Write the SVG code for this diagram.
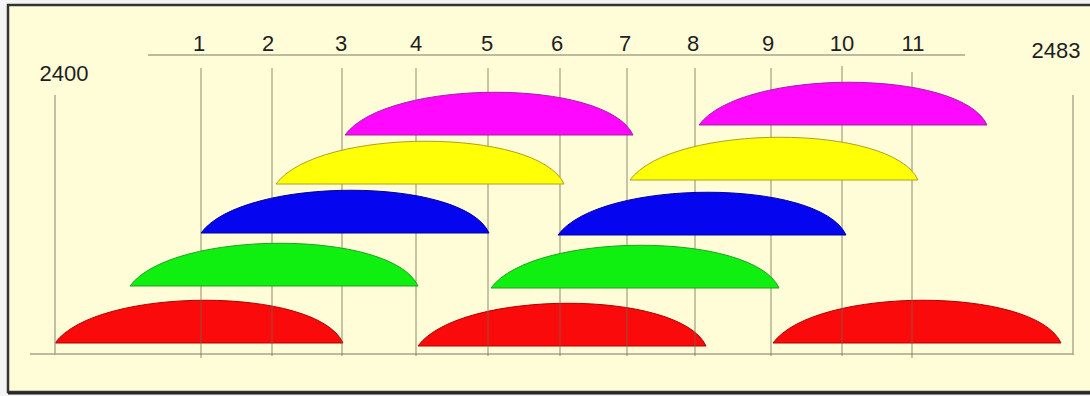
<svg xmlns="http://www.w3.org/2000/svg" width="1090" height="396" viewBox="0 0 1090 396">
<style>
.t{font-family:"Liberation Sans",Arial,sans-serif;font-size:22px;fill:#1e1e1e;text-anchor:middle}
.ax{stroke:#a8a48a;stroke-width:1.4;fill:none}
.vl{stroke:#6e6a50;stroke-opacity:0.55;stroke-width:1.4;fill:none}
.red{fill:#fa0a0a;stroke:#b00000;stroke-width:1}
.grn{fill:#10f010;stroke:#20a020;stroke-width:1}
.blu{fill:#0505f0;stroke:#0000a0;stroke-width:1}
.yel{fill:#ffff05;stroke:#b0a020;stroke-width:1}
.mag{fill:#ff08ff;stroke:#a020a0;stroke-width:1}
</style>
<defs>
<path id="arc" d="M0,0 C42,-57 262,-57 288,0 Z"/>
</defs>
<rect x="0" y="0" width="1090" height="396" fill="#f4f4f4"/>
<rect x="8" y="5" width="1100" height="387" fill="#fffcd8" stroke="#333" stroke-width="2.5"/>
<line x1="8" y1="393.5" x2="1090" y2="393.5" stroke="#222" stroke-width="2"/>

<g id="labels">
<text class="t" x="64" y="81">2400</text>
<text class="t" x="1056" y="58">2483</text>
<text class="t" x="199" y="51">1</text>
<text class="t" x="268" y="51">2</text>
<text class="t" x="341" y="51">3</text>
<text class="t" x="416" y="51">4</text>
<text class="t" x="487" y="51">5</text>
<text class="t" x="557" y="51">6</text>
<text class="t" x="625" y="51">7</text>
<text class="t" x="693" y="51">8</text>
<text class="t" x="768" y="51">9</text>
<text class="t" x="842" y="51">10</text>
<text class="t" x="913" y="51">11</text>
</g>

<g id="red-channels">
<use href="#arc" class="red" x="55" y="343"/>
<use href="#arc" class="red" x="418" y="346"/>
<use href="#arc" class="red" x="773" y="343"/>
</g>

<g id="connectors">
<line class="ax" x1="148" y1="55" x2="965" y2="55"/>
<line class="ax" x1="30" y1="354" x2="1073" y2="354"/>
<line class="ax" x1="55" y1="95" x2="55" y2="355"/>
<line class="ax" x1="1073" y1="95" x2="1073" y2="355"/>
<line class="vl" x1="201" y1="68" x2="201" y2="358"/>
<line class="vl" x1="272" y1="68" x2="272" y2="356"/>
<line class="vl" x1="342" y1="68" x2="342" y2="356"/>
<line class="vl" x1="416" y1="68" x2="416" y2="356"/>
<line class="vl" x1="488" y1="68" x2="488" y2="356"/>
<line class="vl" x1="560" y1="68" x2="560" y2="356"/>
<line class="vl" x1="627" y1="68" x2="627" y2="356"/>
<line class="vl" x1="695" y1="68" x2="695" y2="356"/>
<line class="vl" x1="771" y1="68" x2="771" y2="356"/>
<line class="vl" x1="842" y1="66" x2="842" y2="356"/>
<line class="vl" x1="912" y1="72" x2="912" y2="358"/>
</g>

<g id="green-channels">
<use href="#arc" class="grn" x="130" y="286"/>
<use href="#arc" class="grn" x="491" y="288"/>
</g>
<g id="blue-channels">
<use href="#arc" class="blu" x="201" y="233"/>
<use href="#arc" class="blu" x="558" y="235"/>
</g>
<g id="yellow-channels">
<use href="#arc" class="yel" x="276" y="184"/>
<use href="#arc" class="yel" x="630" y="180"/>
</g>
<g id="magenta-channels">
<use href="#arc" class="mag" x="345" y="135"/>
<use href="#arc" class="mag" x="699" y="125"/>
</g>
</svg>
